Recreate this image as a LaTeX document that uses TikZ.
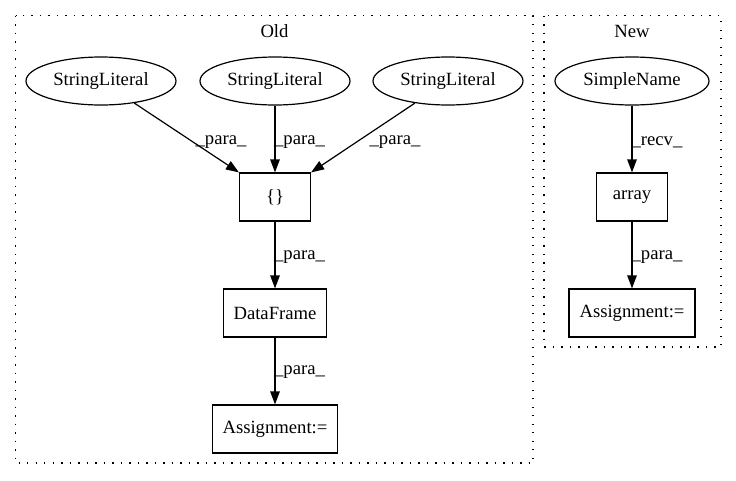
\documentclass[tikz,border=0pt]{standalone}
\usepackage{fontspec}
\setmainfont{Liberation Serif}
\usetikzlibrary{shapes.geometric,arrows.meta}
\begin{document}
\begin{tikzpicture}[x=1pt,y=-1pt,
  every node/.style={font=\fontsize{18.67pt}{22pt}\selectfont, inner sep=0pt},
  lit/.style={draw, ellipse, line width=1.2pt, minimum width=150pt, minimum height=48pt},
  box/.style={draw, rectangle, line width=1.2pt, minimum height=48pt},
  cluster/.style={line width=1.2pt, dash pattern=on 1.3pt off 7.2pt},
  edge/.style={line width=1.2pt, -{Triangle[length=13pt,width=9.5pt]}},
  lab/.style={anchor=center}
]
\useasboundingbox (0,0) rectangle (736,480);
% clusters
\draw[cluster] (15.5,15.7) rectangle (533,463);
\draw[cluster] (544,15.7) rectangle (721,347);
\node (oldlab) at (274.5,31) {Old};
\node (newlab) at (632,31) {New};
% old nodes
\node[lit] (s1) at (101,81) {StringLiteral};
\node[lit] (s2) at (275,81) {StringLiteral};
\node[lit] (s3) at (448,81) {StringLiteral};
\node[box, minimum width=71pt] (br) at (275,197) {\{\}};
\node[box, minimum width=103pt] (df) at (275,313) {DataFrame};
\node[box, minimum width=125pt] (as1) at (275,429) {Assignment:=};
% new nodes
\node[lit, minimum width=154pt] (sn) at (632,81) {SimpleName};
\node[box, minimum width=71pt] (arr) at (632,197) {array};
\node[box, minimum width=126pt] (as2) at (632,313) {Assignment:=};
% edges
\draw[edge] (s1) -- (br.north west);
\draw[edge] (s2) -- (br);
\draw[edge] (s3) -- (br.north east);
\draw[edge] (br) -- (df);
\draw[edge] (df) -- (as1);
\draw[edge] (sn) -- (arr);
\draw[edge] (arr) -- (as2);
% labels
\node[lab] (l1) at (221,142) {\_para\_};
\node[lab] (l2) at (299.5,142) {\_para\_};
\node[lab] (l3) at (395,142) {\_para\_};
\node[lab] (l4) at (299.5,257) {\_para\_};
\node[lab] (l5) at (299.5,372) {\_para\_};
\node[lab] (l6) at (657,142) {\_recv\_};
\node[lab] (l7) at (657,257) {\_para\_};
\end{tikzpicture}
\end{document}
